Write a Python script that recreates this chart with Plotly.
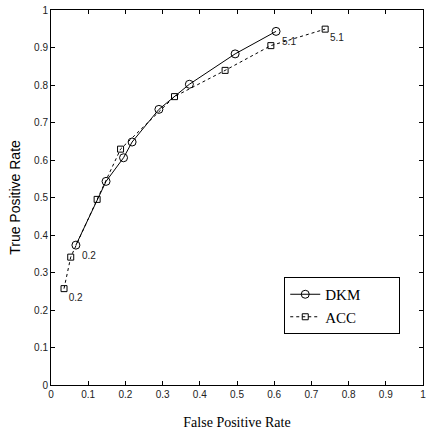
import plotly.graph_objects as go

dkm_fpr = [0.067, 0.148, 0.195, 0.218, 0.290, 0.372, 0.495, 0.605]
dkm_tpr = [0.373, 0.543, 0.606, 0.648, 0.735, 0.802, 0.883, 0.943]
dkm_lbl = ["0.2", "", "", "", "", "", "", "5.1"]

acc_fpr = [0.035, 0.053, 0.124, 0.187, 0.332, 0.468, 0.591, 0.737]
acc_tpr = [0.257, 0.341, 0.495, 0.629, 0.769, 0.839, 0.905, 0.949]
acc_lbl = ["0.2", "", "", "", "", "", "", "5.1"]

ticks = [0, 0.1, 0.2, 0.3, 0.4, 0.5, 0.6, 0.7, 0.8, 0.9, 1]
tick_text = ["0", "0.1", "0.2", "0.3", "0.4", "0.5", "0.6", "0.7", "0.8", "0.9", "1"]

PAD = "\u00a0" * 9

fig = go.Figure()
fig.add_trace(go.Scatter(
    x=dkm_fpr, y=dkm_tpr, name="DKM" + PAD, mode="lines+markers+text",
    text=dkm_lbl, textposition="bottom right",
    textfont=dict(family="Liberation Sans, Arial", size=10, color="#222"),
    line=dict(color="black", width=1),
    marker=dict(symbol="circle-open", size=8, color="black", line=dict(width=1)),
))
fig.add_trace(go.Scatter(
    x=acc_fpr, y=acc_tpr, name="ACC" + PAD, mode="lines+markers+text",
    text=acc_lbl, textposition="bottom right",
    textfont=dict(family="Liberation Sans, Arial", size=10, color="#222"),
    line=dict(color="black", width=1, dash="3px,3px"),
    marker=dict(symbol="square-open", size=6, color="black", line=dict(width=1)),
))

axis_common = dict(
    range=[0, 1], tickvals=ticks, ticktext=tick_text,
    ticks="inside", ticklen=4, tickcolor="black", tickwidth=1,
    showline=True, linecolor="black", linewidth=1, mirror="ticks",
    showgrid=False, zeroline=False, ticklabeloverflow="allow",
    tickfont=dict(family="Liberation Sans, Arial", size=10, color="#222"),
)

fig.update_layout(
    width=427, height=434,
    margin=dict(l=51, r=1, t=10, b=49),
    paper_bgcolor="white", plot_bgcolor="white",
    xaxis=dict(**axis_common,
               title=dict(text="False Positive Rate",
                          font=dict(family="Liberation Serif, Times New Roman", size=14, color="black"),
                          standoff=18)),
    yaxis=dict(**axis_common,
               title=dict(text="True Positive Rate",
                          font=dict(family="Liberation Sans, Arial", size=14, color="black"),
                          standoff=10)),
    legend=dict(x=0.627, y=0.288, xanchor="left", yanchor="top",
                bordercolor="black", borderwidth=1, bgcolor="white",
                font=dict(family="Liberation Serif, Times New Roman", size=15, color="black")),
    showlegend=True,
)

fig.write_html("out.html", config={"displayModeBar": False},
               post_script="document.body.style.margin='0';")
